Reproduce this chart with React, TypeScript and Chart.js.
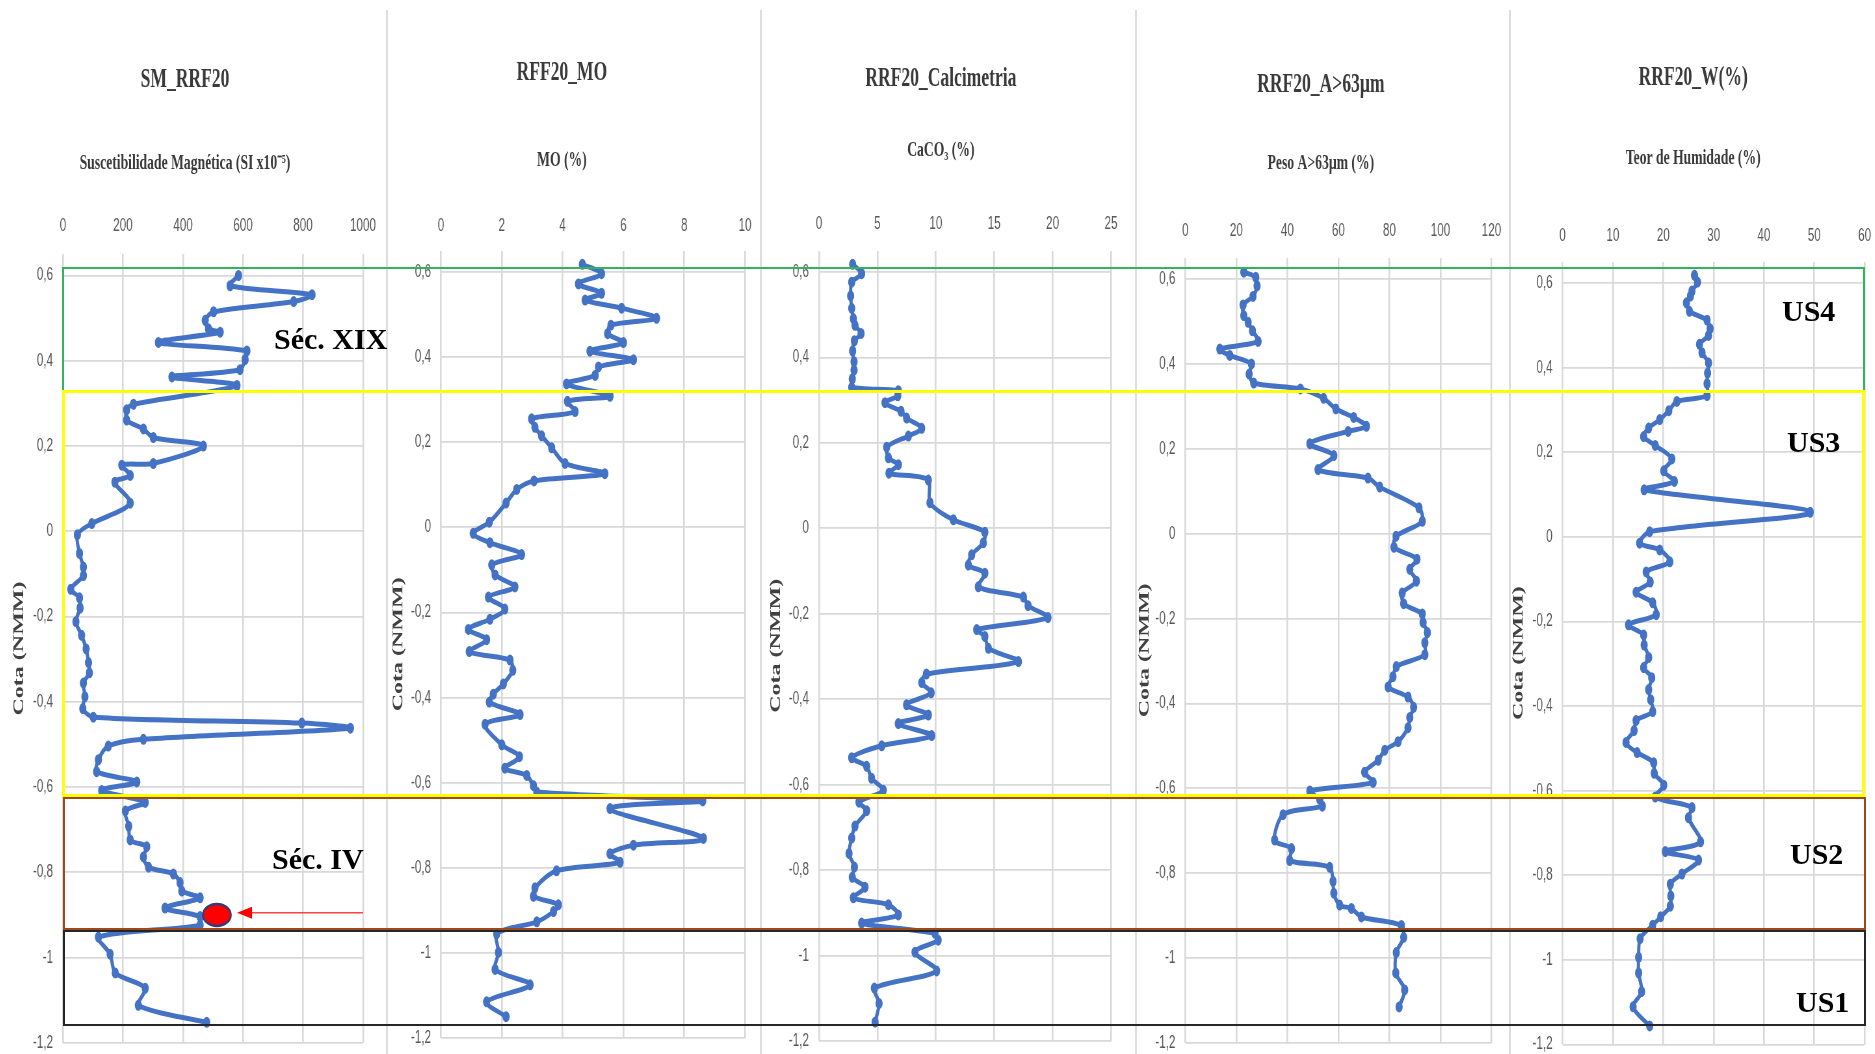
import React, { useEffect, useRef } from 'react';
import { Chart, registerables } from 'chart.js';
Chart.register(...registerables);

// ---------------- DATA ----------------
const Y_TICKS = [0.6, 0.4, 0.2, 0, -0.2, -0.4, -0.6, -0.8, -1, -1.2];
const Y_MIN = -1.2;
const Y_MAX = 0.65;
const Y_TITLE = 'Cota (NMM)';

const PANEL_TITLES = ['SM_RRF20', 'RFF20_MO', 'RRF20_Calcimetria', 'RRF20_A>63µm', 'RRF20_W(%)'];
const PANEL_SUBTITLES = ['Suscetibilidade Magnética (SI x10⁻⁵)', 'MO (%)', 'CaCO₃ (%)', 'Peso A>63µm (%)', 'Teor de Humidade (%)'];
const X_MAX = [1000, 10, 25, 120, 60];
const X_STEP = [200, 2, 5, 20, 10];

const SM_DEPTH = [0.6, 0.576, 0.555, 0.539, 0.515, 0.495, 0.475, 0.467, 0.443, 0.423, 0.403, 0.379, 0.362, 0.342, 0.298, 0.285, 0.261, 0.24, 0.22, 0.2, 0.159, 0.155, 0.131, 0.115, 0.066, 0.018, -0.008, -0.052, -0.084, -0.104, -0.136, -0.156, -0.18, -0.212, -0.244, -0.276, -0.308, -0.332, -0.356, -0.388, -0.416, -0.436, -0.45, -0.462, -0.488, -0.504, -0.536, -0.564, -0.588, -0.608, -0.636, -0.656, -0.692, -0.724, -0.74, -0.764, -0.788, -0.804, -0.824, -0.844, -0.86, -0.884, -0.904, -0.924, -0.952, -0.992, -1.036, -1.072, -1.112, -1.152];
const SM_VALUES = [585, 557, 830, 769, 502, 474, 485, 524, 318, 613, 607, 590, 363, 580, 235, 212, 212, 268, 301, 468, 301, 196, 224, 173, 224, 96, 48, 55, 68, 68, 26, 55, 57, 43, 62, 77, 85, 88, 68, 73, 66, 101, 796, 958, 268, 151, 118, 112, 246, 129, 274, 208, 219, 224, 279, 268, 285, 368, 390, 396, 457, 340, 457, 457, 118, 157, 174, 274, 251, 479];

const MO_DEPTH = [0.618, 0.596, 0.572, 0.55, 0.534, 0.515, 0.491, 0.475, 0.455, 0.434, 0.414, 0.394, 0.377, 0.357, 0.337, 0.308, 0.296, 0.272, 0.255, 0.235, 0.215, 0.187, 0.15, 0.126, 0.109, 0.089, 0.057, 0.012, -0.014, -0.036, -0.064, -0.088, -0.112, -0.14, -0.164, -0.192, -0.216, -0.24, -0.264, -0.292, -0.312, -0.336, -0.368, -0.392, -0.411, -0.44, -0.463, -0.511, -0.539, -0.566, -0.583, -0.607, -0.622, -0.643, -0.661, -0.731, -0.747, -0.767, -0.787, -0.807, -0.847, -0.867, -0.887, -0.903, -0.927, -0.955, -0.999, -1.039, -1.075, -1.115, -1.15];
const MO_VALUES = [4.65, 5.28, 4.52, 5.28, 4.74, 5.94, 7.09, 5.59, 5.48, 6.0, 4.9, 6.33, 5.18, 5.07, 4.13, 5.56, 4.16, 4.41, 2.98, 3.09, 3.31, 3.64, 4.08, 5.39, 3.06, 2.49, 2.14, 1.59, 1.06, 1.61, 2.65, 1.67, 1.78, 2.43, 1.56, 2.1, 1.61, 0.9, 1.5, 0.93, 2.27, 2.36, 2.05, 1.72, 1.59, 2.6, 1.45, 2.0, 2.58, 2.1, 2.82, 3.04, 3.15, 8.61, 5.56, 8.63, 6.33, 5.56, 5.89, 3.8, 3.09, 3.04, 3.86, 3.7, 3.15, 1.83, 1.89, 1.78, 2.93, 1.5, 2.14];

const CACO3_DEPTH = [0.618, 0.596, 0.576, 0.544, 0.515, 0.491, 0.475, 0.456, 0.439, 0.415, 0.39, 0.37, 0.35, 0.33, 0.322, 0.31, 0.294, 0.274, 0.258, 0.234, 0.216, 0.19, 0.165, 0.149, 0.129, 0.113, 0.06, 0.02, -0.009, -0.034, -0.062, -0.086, -0.105, -0.137, -0.161, -0.181, -0.209, -0.237, -0.253, -0.281, -0.312, -0.341, -0.361, -0.385, -0.413, -0.437, -0.457, -0.485, -0.509, -0.537, -0.557, -0.585, -0.613, -0.641, -0.661, -0.697, -0.725, -0.761, -0.793, -0.817, -0.84, -0.865, -0.881, -0.905, -0.924, -0.948, -0.964, -0.992, -1.036, -1.076, -1.112, -1.156];
const CACO3_VALUES = [2.88, 3.65, 2.8, 2.71, 2.8, 2.94, 3.08, 3.6, 3.03, 2.88, 3.0, 3.0, 2.85, 2.8, 6.79, 6.74, 5.65, 7.02, 7.5, 8.79, 7.65, 5.79, 5.94, 6.79, 5.99, 9.36, 9.5, 11.5, 14.2, 14.07, 13.07, 12.79, 14.2, 13.64, 17.5, 17.9, 19.6, 13.5, 14.2, 14.5, 17.07, 9.2, 8.8, 9.6, 7.5, 9.36, 6.79, 9.65, 5.37, 2.8, 4.08, 4.5, 5.5, 3.42, 4.08, 3.08, 2.8, 2.57, 3.03, 2.85, 3.94, 2.94, 5.94, 6.79, 3.65, 9.93, 10.2, 8.22, 10.07, 4.74, 5.14, 4.8];

const A63_DEPTH = [0.616, 0.604, 0.584, 0.559, 0.539, 0.514, 0.498, 0.478, 0.453, 0.435, 0.42, 0.4, 0.376, 0.355, 0.341, 0.319, 0.294, 0.274, 0.253, 0.241, 0.212, 0.184, 0.151, 0.131, 0.11, 0.061, 0.029, -0.006, -0.032, -0.06, -0.084, -0.112, -0.14, -0.165, -0.189, -0.209, -0.233, -0.257, -0.285, -0.313, -0.337, -0.361, -0.385, -0.409, -0.433, -0.457, -0.49, -0.51, -0.534, -0.562, -0.586, -0.606, -0.626, -0.642, -0.662, -0.722, -0.742, -0.77, -0.786, -0.819, -0.847, -0.875, -0.883, -0.903, -0.923, -0.951, -0.987, -1.035, -1.075, -1.115];
const A63_VALUES = [22.9, 27.6, 28.1, 26.5, 22.6, 22.9, 24.6, 26.3, 28.5, 13.5, 17.4, 25.9, 25.0, 26.8, 45.1, 54.2, 59.0, 66.0, 71.0, 63.8, 48.8, 58.2, 52.0, 71.6, 76.2, 91.6, 92.9, 82.6, 81.8, 90.8, 88.0, 90.6, 85.0, 85.6, 92.9, 93.2, 94.9, 93.9, 93.9, 82.7, 81.4, 79.5, 87.3, 89.5, 88.0, 87.3, 83.4, 78.2, 75.6, 70.3, 73.6, 48.8, 52.7, 53.7, 38.3, 35.0, 41.6, 40.9, 56.6, 57.9, 58.2, 60.5, 65.1, 69.0, 84.7, 85.6, 82.7, 82.5, 86.0, 83.8];

const W_DEPTH = [0.618, 0.602, 0.581, 0.569, 0.553, 0.533, 0.512, 0.492, 0.476, 0.455, 0.435, 0.411, 0.387, 0.362, 0.334, 0.32, 0.298, 0.277, 0.257, 0.237, 0.216, 0.184, 0.156, 0.131, 0.111, 0.058, 0.012, -0.015, -0.031, -0.059, -0.083, -0.107, -0.131, -0.156, -0.184, -0.208, -0.232, -0.256, -0.285, -0.309, -0.333, -0.361, -0.385, -0.413, -0.434, -0.458, -0.486, -0.51, -0.534, -0.559, -0.587, -0.615, -0.64, -0.664, -0.721, -0.744, -0.764, -0.797, -0.821, -0.849, -0.873, -0.898, -0.918, -0.95, -0.994, -1.031, -1.075, -1.111, -1.156];
const W_VALUES = [26.2, 26.8, 25.7, 25.4, 24.6, 25.2, 28.7, 29.3, 29.0, 27.2, 27.7, 29.0, 28.8, 28.7, 28.7, 22.7, 21.1, 19.3, 17.1, 16.1, 18.4, 21.7, 20.1, 22.2, 16.2, 49.2, 17.3, 15.3, 19.3, 21.3, 16.6, 17.4, 14.6, 17.9, 18.6, 13.1, 16.1, 16.2, 17.1, 16.1, 17.7, 17.1, 17.5, 17.9, 14.6, 14.2, 12.6, 14.8, 18.1, 18.2, 20.1, 18.4, 25.7, 25.0, 27.4, 20.4, 27.0, 23.7, 21.4, 21.5, 21.4, 19.5, 17.9, 15.4, 15.1, 15.1, 15.7, 14.0, 17.3];

const SERIES_DEPTH = [SM_DEPTH, MO_DEPTH, CACO3_DEPTH, A63_DEPTH, W_DEPTH];
const SERIES_VALUES = [SM_VALUES, MO_VALUES, CACO3_VALUES, A63_VALUES, W_VALUES];

// highlighted sample (panel 1) and arrow
const MARKER_VALUE = 513;
const MARKER_DEPTH = -0.9;
const ARROW_FROM = 1000;
const ARROW_TO = 580;
const ARROW_DEPTH = -0.895;

const UNIT_LABELS = ['Séc. XIX', 'Séc. IV', 'US4', 'US3', 'US2', 'US1'];

// ---------------- LAYOUT / STYLE ----------------
const S = 0.65; // horizontal compression of the charts
const M = 30;
const SERIF = "'Liberation Serif', 'Times New Roman', serif";
const SANS = "'Liberation Sans', Arial, sans-serif";
const LH = 1.2;
const TF = 27, SF = 21, YF = 24, KF = 18;

const LAYOUT = [
  { plotLeft: 63, plotRight: 363, plotTop: 254.2, plotBottom: 1042.8, titleX: 185, titleY: 80, subY: 164, tickY: 226, yTitleX: 19 },
  { plotLeft: 441, plotRight: 745, plotTop: 250.7, plotBottom: 1038, titleX: 562, titleY: 73, subY: 161, tickY: 226, yTitleX: 398 },
  { plotLeft: 819, plotRight: 1111, plotTop: 250.6, plotBottom: 1041, titleX: 941, titleY: 79, subY: 151, tickY: 224, yTitleX: 776 },
  { plotLeft: 1185.7, plotRight: 1491.7, plotTop: 257.8, plotBottom: 1043, titleX: 1321, titleY: 85, subY: 164, tickY: 231, yTitleX: 1145 },
  { plotLeft: 1562.3, plotRight: 1864.3, plotTop: 261.8, plotBottom: 1044.5, titleX: 1693, titleY: 78, subY: 159, tickY: 236, yTitleX: 1518 },
];

const BANDS = [
  { left: 62, top: 267, right: 1865, bottom: 392, color: '#33b35a', width: 2 },
  { left: 62, top: 390, right: 1865, bottom: 797, color: '#ffff00', width: 3 },
  { left: 63, top: 797, right: 1866, bottom: 930, color: '#9c4a1c', width: 2 },
  { left: 63, top: 930, right: 1866, bottom: 1026, color: '#262626', width: 2 },
];
const LABEL_POS = [
  { left: 274, top: 324 },
  { left: 272, top: 844 },
  { left: 1782, top: 296 },
  { left: 1787, top: 427 },
  { left: 1790, top: 839 },
  { left: 1796, top: 987 },
];
const SEPARATORS = [386, 760, 1135, 1509];

const markerPlugin = {
  id: 'markerPlugin',
  afterDatasetsDraw(chart: any) {
    const { ctx } = chart;
    const x = chart.scales.x;
    const y = chart.scales.y;
    ctx.save();
    const ax0 = x.getPixelForValue(ARROW_FROM);
    const ax1 = x.getPixelForValue(ARROW_TO);
    const ay = y.getPixelForValue(ARROW_DEPTH);
    const head = 15 / S;
    ctx.strokeStyle = '#ff4040';
    ctx.lineWidth = 1.6;
    ctx.beginPath();
    ctx.moveTo(ax0, ay);
    ctx.lineTo(ax1 + head * 0.9, ay);
    ctx.stroke();
    ctx.fillStyle = '#ff0000';
    ctx.beginPath();
    ctx.moveTo(ax1, ay);
    ctx.lineTo(ax1 + head, ay - 6);
    ctx.lineTo(ax1 + head, ay + 6);
    ctx.closePath();
    ctx.fill();
    const cx = x.getPixelForValue(MARKER_VALUE);
    const cy = y.getPixelForValue(MARKER_DEPTH);
    ctx.beginPath();
    ctx.ellipse(cx, cy, 14 / S, 11, 0, 0, Math.PI * 2);
    ctx.fillStyle = '#ff0000';
    ctx.fill();
    ctx.lineWidth = 2.5;
    ctx.strokeStyle = '#2f3e73';
    ctx.stroke();
    ctx.restore();
  },
};

function Panel({ idx }: { idx: number }) {
  const ref = useRef<HTMLCanvasElement>(null);
  const L = LAYOUT[idx];
  const Rc = L.plotRight + M;
  const Lc = 2 * L.titleX - Rc;
  const Wi = Math.round((Rc - Lc) / S);

  useEffect(() => {
    if (!ref.current) return;
    const yW = (L.plotLeft - Lc) / S;
    const plotWi = (L.plotRight - L.plotLeft) / S;
    const rW = Wi - yW - plotWi;
    const titlePad = L.titleY - (TF * LH) / 2;
    const subPad = L.subY - (L.titleY + (TF * LH) / 2) - (SF * LH) / 2;
    const xH = L.plotTop - (L.subY + (SF * LH) / 2);
    const xTickPad = L.plotTop - L.tickY - (KF * LH) / 2;
    const yTitlePad = (L.yTitleX - Lc) / S - (YF * LH) / 2;

    const depth = SERIES_DEPTH[idx];
    const values = SERIES_VALUES[idx];
    const points = depth.map((d, i) => ({ x: values[i], y: d }));

    const chart = new Chart(ref.current, {
      type: 'scatter',
      data: {
        datasets: [
          {
            data: points,
            showLine: true,
            borderColor: '#4472c4',
            backgroundColor: '#4472c4',
            borderWidth: 5,
            pointRadius: 3,
            pointHoverRadius: 3,
            tension: 0.3,
          } as any,
        ],
      },
      options: {
        responsive: false,
        animation: false,
        devicePixelRatio: 1,
        events: [],
        layout: { padding: { left: 0, right: 0, top: 0, bottom: 1054 - L.plotBottom } },
        plugins: {
          legend: { display: false },
          tooltip: { enabled: false },
          title: {
            display: true,
            text: PANEL_TITLES[idx],
            color: '#3a3a3a',
            font: { family: SERIF, size: TF, weight: 'bold', lineHeight: LH },
            padding: { top: titlePad, bottom: 0 },
          },
          subtitle: {
            display: true,
            text: PANEL_SUBTITLES[idx],
            color: '#3a3a3a',
            font: { family: SERIF, size: SF, weight: 'bold', lineHeight: LH },
            padding: { top: subPad, bottom: 0 },
          },
        },
        scales: {
          x: {
            type: 'linear',
            position: 'top',
            min: 0,
            max: X_MAX[idx],
            ticks: {
              stepSize: X_STEP[idx],
              color: '#595959',
              font: { family: SANS, size: KF, lineHeight: LH },
              padding: xTickPad,
              maxRotation: 0,
              autoSkip: false,
              callback: (v: any) => String(v),
            },
            grid: { color: '#d9d9d9', lineWidth: 2.6, drawTicks: false },
            border: { display: false },
            afterFit: (s: any) => {
              s.height = xH;
              s.paddingLeft = 0;
              s.paddingRight = 0;
            },
          },
          y: {
            type: 'linear',
            position: 'left',
            min: Y_MIN,
            max: Y_MAX,
            afterBuildTicks: (s: any) => {
              s.ticks = Y_TICKS.map((v) => ({ value: v }));
            },
            ticks: {
              color: '#595959',
              font: { family: SANS, size: KF, lineHeight: LH },
              padding: 10 / S,
              autoSkip: false,
              callback: (v: any) => String(v).replace('.', ','),
            },
            grid: { color: '#d9d9d9', lineWidth: 1.7, drawTicks: false },
            border: { display: false },
            title: {
              display: true,
              text: Y_TITLE,
              color: '#404040',
              font: { family: SERIF, size: YF, weight: 'bold', lineHeight: LH },
              padding: { top: yTitlePad, bottom: 0 },
            },
            afterFit: (s: any) => {
              s.width = yW;
              s.paddingTop = 0;
              s.paddingBottom = 0;
            },
          },
          yR: {
            type: 'linear',
            position: 'right',
            display: true,
            ticks: { display: false },
            grid: { display: false },
            border: { display: false },
            afterFit: (s: any) => {
              s.width = rW;
              s.paddingTop = 0;
              s.paddingBottom = 0;
            },
          },
        },
      } as any,
      plugins: idx === 0 ? [markerPlugin as any] : [],
    });
    return () => chart.destroy();
  }, []);

  return (
    <canvas
      ref={ref}
      width={Wi}
      height={1054}
      style={{
        position: 'absolute',
        left: Lc,
        top: 0,
        width: Wi,
        height: 1054,
        transform: `scaleX(${S})`,
        transformOrigin: '0 0',
        zIndex: 1,
      }}
    />
  );
}

export default function App() {
  useEffect(() => {
    document.body.style.margin = '0';
    document.body.style.overflow = 'hidden';
  }, []);
  return (
    <div style={{ position: 'relative', width: 1875, height: 1054, overflow: 'hidden', background: '#ffffff' }}>
      {SEPARATORS.map((x, i) => (
        <div key={'sep' + i} style={{ position: 'absolute', left: x, top: 10, width: 2, height: 1044, background: '#dedede', zIndex: 0 }} />
      ))}
      {LAYOUT.map((_, i) => (
        <Panel key={'p' + i} idx={i} />
      ))}
      {BANDS.map((b, i) => (
        <div
          key={'band' + i}
          style={{
            position: 'absolute',
            left: b.left,
            top: b.top,
            width: b.right - b.left,
            height: b.bottom - b.top,
            border: `${b.width}px solid ${b.color}`,
            boxSizing: 'border-box',
            zIndex: 2,
            pointerEvents: 'none',
          }}
        />
      ))}
      {UNIT_LABELS.map((t, i) => (
        <div
          key={'lab' + i}
          style={{
            position: 'absolute',
            left: LABEL_POS[i].left,
            top: LABEL_POS[i].top,
            fontFamily: SERIF,
            fontWeight: 'bold',
            fontSize: 30,
            lineHeight: '30px',
            color: '#000',
            whiteSpace: 'nowrap',
            zIndex: 3,
          }}
        >
          {t}
        </div>
      ))}
    </div>
  );
}
